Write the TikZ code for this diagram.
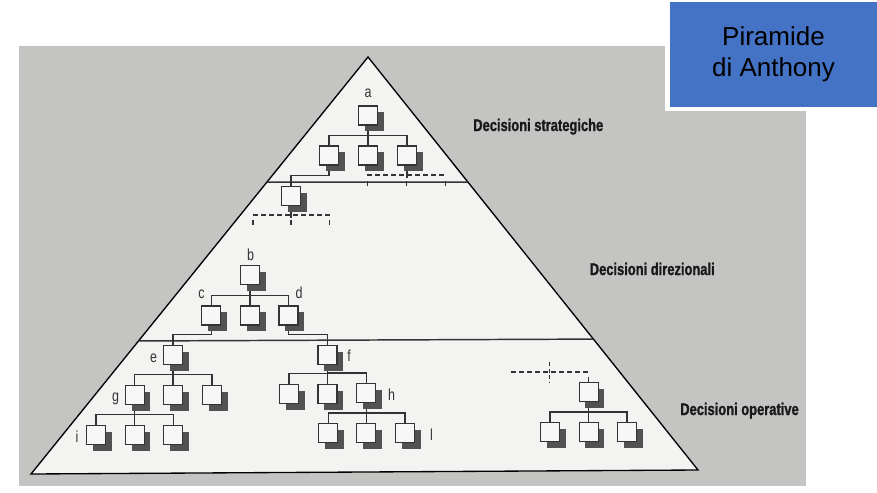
\documentclass[tikz,border=0pt]{standalone}
\usepackage{fontspec}
\usetikzlibrary{calc,shadows}
\newfontfamily\titlefont{Liberation Sans}
\newfontfamily\condfont[FakeStretch=0.78]{Liberation Sans}
\newfontfamily\headfont[FakeStretch=0.76, FakeBold=1.2, UprightFont=* Bold]{Liberation Sans}
\definecolor{paper}{HTML}{C4C4C2}
\definecolor{inside}{HTML}{F3F3F1}
\definecolor{shade}{HTML}{525252}
\definecolor{ink}{HTML}{333333}
\definecolor{slide}{HTML}{4472C4}
\pgfdeclarelayer{base}
\pgfdeclarelayer{wires}
\pgfsetlayers{base,wires,main}
\tikzset{
  unit/.style={draw=ink, fill=white!97!black, line width=0.85pt,
    minimum size=14.2pt, inner sep=0pt,
    general shadow={fill=shade, shadow xshift=4.7pt, shadow yshift=-4.7pt}},
  wire/.style={draw=ink, line width=1pt},
  link/.style={wire, to path={|- ([yshift=7.7pt]\tikztotarget) -- (\tikztotarget)}},
  elided/.style={draw=ink, line width=0.9pt, dash pattern=on 3.6pt off 2.4pt},
  tick/.style={draw=ink, line width=0.8pt},
  tag/.style={font=\condfont\fontsize{12}{14}\selectfont, text=ink,
    inner sep=0pt, anchor=base},
  head/.style={font=\headfont\fontsize{12.75}{15}\selectfont,
    text=black!90, inner sep=0pt, anchor=base west},
  titlebox/.style={fill=slide, inner sep=0pt, minimum width=155.25pt,
    minimum height=79.1pt, align=center,
    font=\titlefont\fontsize{19.5}{23.25}\selectfont},
}
\begin{document}
\begin{tikzpicture}[x=0.75pt,y=-0.75pt]
\useasboundingbox (0,0) rectangle (877,492);

% pyramid outline points
\coordinate (apex) at (368,57);
\coordinate (bl) at (31,474);
\coordinate (br) at (698,470);
\coordinate (l1) at ($(apex)!0.2998!(bl)$);
\coordinate (r1) at ($(apex)!0.3027!(br)$);
\coordinate (l2) at ($(apex)!0.681!(bl)$);
\coordinate (r2) at ($(apex)!0.683!(br)$);

\begin{pgfonlayer}{base}
  \fill[white] (0,0) rectangle (877,492);
  \fill[paper] (19,46) rectangle (806,486);
  \fill[inside] (apex) -- (bl) -- (br) -- cycle;
\end{pgfonlayer}

\draw[black, line width=1pt, line join=miter] (apex) -- (bl) -- (br) -- cycle;
\draw[ink, line width=1.1pt] (l1) -- (r1);
\draw[ink, line width=1.1pt] (l2) -- (r2);

% strategic level
\node[unit] (A)  at (368,115.5) {};
\node[unit] (S1) at (329,155.5) {};
\node[unit] (S2) at (368,155.5) {};
\node[unit] (S3) at (407,155.5) {};
% managerial level
\node[unit] (T)  at (291,196) {};
\node[unit] (B)  at (250,275) {};
\node[unit] (C)  at (211.3,315.5) {};
\node[unit] (M)  at (250,315.5) {};
\node[unit] (D)  at (288.5,315.5) {};
% operational level
\node[unit] (E)  at (173,355) {};
\node[unit] (F)  at (327.5,355) {};
\node[unit] (G)  at (134.7,395) {};
\node[unit] (E2) at (173,395) {};
\node[unit] (E3) at (212,395) {};
\node[unit] (F1) at (289,394) {};
\node[unit] (F2) at (327.5,394) {};
\node[unit] (H)  at (366.3,393.3) {};
\node[unit] (I)  at (96,435) {};
\node[unit] (G2) at (134.7,435) {};
\node[unit] (G3) at (173.3,435) {};
\node[unit] (H1) at (328.3,433.3) {};
\node[unit] (H2) at (366.3,433.3) {};
\node[unit] (H3) at (405,433.3) {};
\node[unit] (R)  at (588.6,392) {};
\node[unit] (R1) at (550,432.3) {};
\node[unit] (R2) at (588.6,432.3) {};
\node[unit] (R3) at (627,432.3) {};

% ends of the branches left out
\coordinate (sw) at (367,175);
\coordinate (se) at (445,175);
\coordinate (tw) at (253,215);
\coordinate (te) at (330,215);
\coordinate (rw) at (511,372);
\coordinate (re) at (588.6,372);

\begin{pgfonlayer}{wires}
  \foreach \p/\c in {A/S1, A/S2, A/S3, S1/T,
                     B/C, B/M, B/D, C/E, D/F,
                     E/G, E/E2, E/E3, F/F1, F/F2, F/H,
                     G/I, G/G2, G/G3, H/H1, H/H2, H/H3,
                     R/R1, R/R2, R/R3}
    \draw[link] (\p.south) to (\c.north);
  \draw[wire] (S3.south) -- ++(0,12.8);
  \draw[wire] (T.south) -- ++(0,12.3);
\end{pgfonlayer}

\draw[elided] (sw) -- (se);
\foreach \x in {367.7,406.7,445.7} \draw[tick] (\x,181) -- ++(0,5);
\draw[elided] (tw) -- (te);
\foreach \x in {253,291,329.5} \draw[tick] (\x,220) -- ++(0,5);
\draw[elided] (rw) -- (re);
\draw[elided, dash pattern=on 3pt off 2pt] (549.3,362) -- (549.3,383);
\draw[wire] ([yshift=3.8pt]R.north) -- (R.north);

% letters of the units
\node[tag] (la) at (368,98) {a};
\node[tag] (lb) at (250.5,260.7) {b};
\node[tag] (lc) at (201.5,298) {c};
\node[tag] (ld) at (299,298) {d};
\node[tag] (le) at (153.7,362.3) {e};
\node[tag] (lf) at (349,361.7) {f};
\node[tag] (lg) at (115.5,401) {g};
\node[tag] (lh) at (391.5,400.7) {h};
\node[tag] (li) at (77,442.7) {i};
\node[tag] (ll) at (431.5,440) {l};

% level names
\node[head] (h1) at (473,131) {Decisioni strategiche};
\node[head] (h2) at (589.5,275) {Decisioni direzionali};
\node[head] (h3) at (680,415) {Decisioni operative};

% title panel
\fill[white] (665,0) rectangle (877,111);
\node[titlebox] (title) at (773.5,54.25) {Piramide\\di Anthony};
\end{tikzpicture}
\end{document}
